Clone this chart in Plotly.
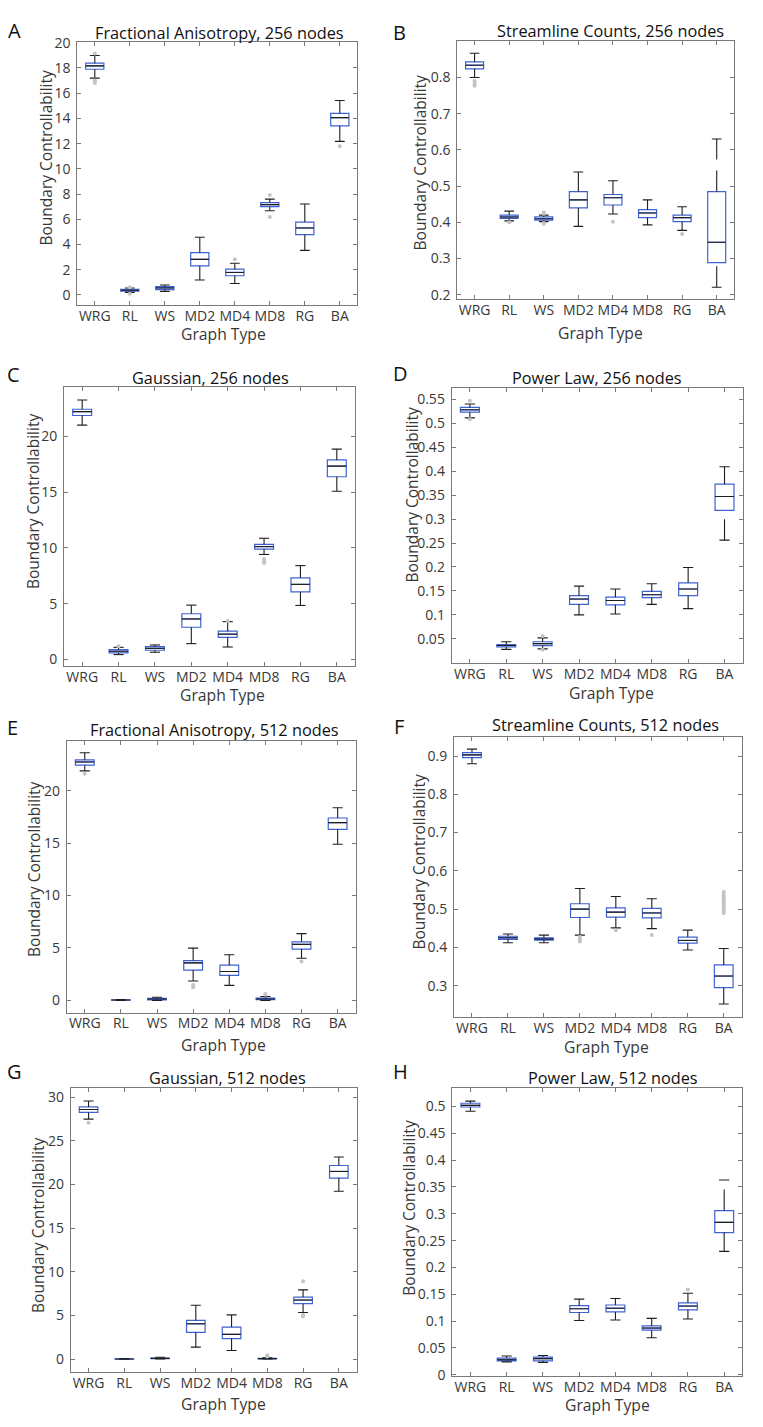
import plotly.graph_objects as go

# ---------------- data ----------------
categories = ["WRG", "RL", "WS", "MD2", "MD4", "MD8", "RG", "BA"]

# A: Fractional Anisotropy, 256 nodes
fa256_low = [17.2, 0.20, 0.28, 1.18, 0.91, 6.67, 3.53, 12.18]
fa256_q1 = [17.90, 0.30, 0.42, 2.30, 1.52, 7.00, 4.78, 13.41]
fa256_med = [18.17, 0.37, 0.55, 2.82, 1.78, 7.16, 5.31, 14.06]
fa256_q3 = [18.38, 0.45, 0.65, 3.35, 2.04, 7.32, 5.78, 14.40]
fa256_up = [18.99, 0.55, 0.78, 4.57, 2.51, 7.60, 7.21, 15.42]
fa256_out = [[19.15, 17.0, 16.9, 16.8], [0.1, 0.6], [], [], [2.82], [7.92, 6.17], [], [11.79]]

# B: Streamline Counts, 256 nodes
sc256_low = [0.800, 0.404, 0.402, 0.389, 0.423, 0.393, 0.378, 0.221]
sc256_q1 = [0.824, 0.411, 0.406, 0.440, 0.448, 0.413, 0.402, 0.289]
sc256_med = [0.834, 0.415, 0.410, 0.462, 0.468, 0.426, 0.413, 0.345]
sc256_q3 = [0.843, 0.420, 0.415, 0.485, 0.477, 0.435, 0.420, 0.485]
sc256_up = [0.867, 0.431, 0.420, 0.539, 0.515, 0.462, 0.443, 0.630]
sc256_out = [[0.790, 0.785, 0.780, 0.777], [0.400], [0.427, 0.424, 0.398, 0.396], [], [0.402], [], [0.368], []]

# C: Gaussian, 256 nodes
g256_low = [21.00, 0.44, 0.65, 1.42, 1.12, 9.41, 4.84, 15.07]
g256_q1 = [21.86, 0.59, 0.83, 2.89, 1.98, 9.88, 6.05, 16.37]
g256_med = [22.21, 0.74, 1.00, 3.63, 2.27, 10.12, 6.73, 17.32]
g256_q3 = [22.42, 0.88, 1.15, 4.10, 2.54, 10.32, 7.32, 17.88]
g256_up = [23.25, 1.09, 1.30, 4.87, 3.39, 10.86, 8.41, 18.85]
g256_out = [[], [1.18], [], [], [3.45], [9.0, 8.8, 8.64], [], []]

# D: Power Law, 256 nodes
pl256_low = [0.511, 0.028, 0.029, 0.100, 0.102, 0.122, 0.113, 0.256]
pl256_q1 = [0.523, 0.033, 0.036, 0.122, 0.121, 0.136, 0.140, 0.318]
pl256_med = [0.528, 0.036, 0.040, 0.133, 0.130, 0.142, 0.154, 0.347]
pl256_q3 = [0.533, 0.038, 0.044, 0.140, 0.137, 0.149, 0.167, 0.373]
pl256_up = [0.540, 0.044, 0.052, 0.160, 0.154, 0.165, 0.199, 0.409]
pl256_out = [[0.547, 0.508], [], [0.056, 0.027], [], [], [], [], []]

# E: Fractional Anisotropy, 512 nodes
fa512_low = [21.88, 0.00, 0.00, 1.85, 1.44, 0.00, 4.02, 14.88]
fa512_q1 = [22.42, 0.02, 0.06, 2.89, 2.39, 0.07, 4.90, 16.30]
fa512_med = [22.73, 0.04, 0.13, 3.58, 2.76, 0.14, 5.34, 16.95]
fa512_q3 = [22.92, 0.06, 0.20, 3.80, 3.36, 0.22, 5.59, 17.39]
fa512_up = [23.61, 0.09, 0.30, 4.99, 4.36, 0.38, 6.37, 18.37]
fa512_out = [[21.6], [], [], [1.48, 1.26], [], [0.55, 0.62], [3.7], []]

# F: Streamline Counts, 512 nodes
sc512_low = [0.880, 0.412, 0.412, 0.432, 0.451, 0.449, 0.393, 0.252]
sc512_q1 = [0.896, 0.421, 0.419, 0.478, 0.479, 0.477, 0.411, 0.295]
sc512_med = [0.903, 0.425, 0.422, 0.500, 0.492, 0.490, 0.418, 0.325]
sc512_q3 = [0.909, 0.429, 0.425, 0.514, 0.503, 0.502, 0.427, 0.354]
sc512_up = [0.918, 0.435, 0.432, 0.554, 0.533, 0.527, 0.445, 0.397]
sc512_out = [[], [], [], [0.427, 0.421, 0.415], [0.445], [0.432], [],
             [0.490, 0.495, 0.500, 0.505, 0.510, 0.515, 0.520, 0.525, 0.530, 0.535, 0.540, 0.545]]

# G: Gaussian, 512 nodes
g512_low = [27.50, 0.00, 0.00, 1.36, 0.98, 0.00, 5.33, 19.23]
g512_q1 = [28.26, 0.00, 0.04, 3.06, 2.34, 0.02, 6.35, 20.74]
g512_med = [28.60, 0.01, 0.08, 4.04, 2.83, 0.05, 6.76, 21.50]
g512_q3 = [28.90, 0.02, 0.12, 4.42, 3.66, 0.09, 7.10, 22.18]
g512_up = [29.58, 0.03, 0.20, 6.16, 5.06, 0.15, 7.93, 23.16]
g512_out = [[27.09], [], [], [], [], [0.30, 0.42], [8.92, 5.06, 4.87], []]

# H: Power Law, 512 nodes
pl512_low = [0.491, 0.024, 0.023, 0.101, 0.102, 0.069, 0.104, 0.230]
pl512_q1 = [0.499, 0.026, 0.026, 0.116, 0.117, 0.083, 0.121, 0.265]
pl512_med = [0.502, 0.028, 0.030, 0.123, 0.124, 0.087, 0.128, 0.284]
pl512_q3 = [0.506, 0.031, 0.033, 0.129, 0.130, 0.091, 0.134, 0.306]
pl512_up = [0.510, 0.035, 0.036, 0.141, 0.142, 0.105, 0.152, 0.363]
pl512_out = [[], [], [], [], [], [], [0.159], []]

# tick labels
ticks_fa256 = [0, 2, 4, 6, 8, 10, 12, 14, 16, 18, 20]
ticks_sc256 = [0.2, 0.3, 0.4, 0.5, 0.6, 0.7, 0.8]
ticks_g256 = [0, 5, 10, 15, 20]
ticks_pl256 = [0.05, 0.1, 0.15, 0.2, 0.25, 0.3, 0.35, 0.4, 0.45, 0.5, 0.55]
ticks_fa512 = [0, 5, 10, 15, 20]
ticks_sc512 = [0.3, 0.4, 0.5, 0.6, 0.7, 0.8, 0.9]
ticks_g512 = [0, 5, 10, 15, 20, 25, 30]
ticks_pl512 = [0, 0.05, 0.1, 0.15, 0.2, 0.25, 0.3, 0.35, 0.4, 0.45, 0.5]

titles = ["Fractional Anisotropy, 256 nodes", "Streamline Counts, 256 nodes",
          "Gaussian, 256 nodes", "Power Law, 256 nodes",
          "Fractional Anisotropy, 512 nodes", "Streamline Counts, 512 nodes",
          "Gaussian, 512 nodes", "Power Law, 512 nodes"]
letters = ["A", "B", "C", "D", "E", "F", "G", "H"]
x_title = "Graph Type"
y_title = "Boundary Controllability"

# ---------------- layout (pixels) ----------------
W, H = 763, 1427
FONT = "Open Sans"
BLUE = "#3f62cf"
DARK = "#1e1e1e"
GREY = "#7a7a7a"
TICKC = "#383838"
OUTC = "#c4c4c4"

panels = [
    dict(d=(fa256_low, fa256_q1, fa256_med, fa256_q3, fa256_up, fa256_out), ticks=ticks_fa256,
         yr=[-0.78, 20.07], frame=(77.3, 357.3, 33.3, 299.3),
         title=(220, 24), letter=(14, 21.7), xt=(223, 328.5), yt=(46.5, 150.8)),
    dict(d=(sc256_low, sc256_q1, sc256_med, sc256_q3, sc256_up, sc256_out), ticks=ticks_sc256,
         yr=[0.187, 0.901], frame=(457.3, 734, 32.3, 294),
         title=(610, 22.5), letter=(399, 24), xt=(600.8, 327.5), yt=(419.5, 155.8)),
    dict(d=(g256_low, g256_q1, g256_med, g256_q3, g256_up, g256_out), ticks=ticks_g256,
         yr=[-0.59, 24.4], frame=(64, 355, 382.7, 665),
         title=(210.3, 373.3), letter=(13.3, 370), xt=(222, 694), yt=(33.7, 498.3)),
    dict(d=(pl256_low, pl256_q1, pl256_med, pl256_q3, pl256_up, pl256_out), ticks=ticks_pl256,
         yr=[0.0, 0.574], frame=(451.7, 742.7, 383.3, 661.7),
         title=(596.7, 373.3), letter=(400.3, 369), xt=(611, 692), yt=(411.7, 491.7)),
    dict(d=(fa512_low, fa512_q1, fa512_med, fa512_q3, fa512_up, fa512_out), ticks=ticks_fa512,
         yr=[-1.16, 24.74], frame=(66.7, 355.7, 740.7, 1015.7),
         title=(214.3, 730), letter=(12.8, 727.5), xt=(223.3, 1048), yt=(33.3, 870)),
    dict(d=(sc512_low, sc512_q1, sc512_med, sc512_q3, sc512_up, sc512_out), ticks=ticks_sc512,
         yr=[0.2184, 0.95], frame=(454, 741.7, 736.7, 1020),
         title=(605, 725), letter=(398.7, 725.8), xt=(606.3, 1051), yt=(419.5, 863.3)),
    dict(d=(g512_low, g512_q1, g512_med, g512_q3, g512_up, g512_out), ticks=ticks_g512,
         yr=[-1.47, 31.1], frame=(70.7, 356.7, 1091.7, 1379.3),
         title=(227.5, 1081.7), letter=(14.2, 1075.5), xt=(223.3, 1412), yt=(37.8, 1230.8)),
    dict(d=(pl512_low, pl512_q1, pl512_med, pl512_q3, pl512_up, pl512_out), ticks=ticks_pl512,
         yr=[-0.002, 0.535], frame=(452.3, 742.3, 1091.7, 1383.3),
         title=(613.3, 1081.7), letter=(400.3, 1075.5), xt=(607.5, 1413), yt=(408.8, 1213.3)),
]

BOX_W = 0.52
CAP_W = 0.28
pos = list(range(len(categories)))

fig = go.Figure()
layout = dict(width=W, height=H, margin=dict(l=0, r=0, t=0, b=0),
              paper_bgcolor="white", plot_bgcolor="white", showlegend=False,
              boxmode="overlay", annotations=[])


def px(x):
    return x / W


def py(y):
    return 1 - y / H


for k, p in enumerate(panels):
    sfx = "" if k == 0 else str(k + 1)
    xa, ya = "x" + sfx, "y" + sfx
    low, q1, med, q3, up, out = p["d"]

    # blue boxes
    fig.add_trace(go.Box(x=pos, q1=q1, median=med, q3=q3, lowerfence=q1, upperfence=q3,
                         width=BOX_W, whiskerwidth=0, boxpoints=False,
                         line=dict(color=BLUE, width=1.2), fillcolor="rgba(255,255,255,0)",
                         xaxis=xa, yaxis=ya, hoverinfo="skip"))

    # whiskers: drawn from the lower value upward (dash starts at the lower end)
    wx, wy = [], []
    for i, (lo, a, b, hi) in enumerate(zip(low, q1, q3, up)):
        wx += [i, i, None, i, i, None]
        wy += [lo, a, None, b, hi, None]
    fig.add_trace(go.Scatter(x=wx, y=wy, mode="lines", xaxis=xa, yaxis=ya,
                             line=dict(color=DARK, width=1.1, dash="21px,11px"),
                             hoverinfo="skip", connectgaps=False))

    # caps
    cx, cy = [], []
    for i, (lo, hi) in enumerate(zip(low, up)):
        cx += [i - CAP_W / 2, i + CAP_W / 2, None, i - CAP_W / 2, i + CAP_W / 2, None]
        cy += [lo, lo, None, hi, hi, None]
    fig.add_trace(go.Scatter(x=cx, y=cy, mode="lines", xaxis=xa, yaxis=ya,
                             line=dict(color=DARK, width=1.1), hoverinfo="skip"))

    # medians
    mx, my = [], []
    for i, m in enumerate(med):
        mx += [i - BOX_W / 2, i + BOX_W / 2, None]
        my += [m, m, None]
    fig.add_trace(go.Scatter(x=mx, y=my, mode="lines", xaxis=xa, yaxis=ya,
                             line=dict(color=DARK, width=1.1), hoverinfo="skip"))

    # outliers
    ox, oy = [], []
    for i, vals in enumerate(out):
        for v in vals:
            ox.append(i)
            oy.append(v)
    fig.add_trace(go.Scatter(x=ox, y=oy, mode="markers", xaxis=xa, yaxis=ya,
                             marker=dict(color=OUTC, size=4, line=dict(width=0)),
                             hoverinfo="skip"))

    l, r, t, b = p["frame"]
    common = dict(ticks="inside", ticklen=4, tickwidth=1, tickcolor=GREY,
                  showline=True, linecolor=GREY, linewidth=1, mirror="ticks",
                  showgrid=False, zeroline=False,
                  tickfont=dict(family=FONT, size=14, color=TICKC))
    layout["xaxis" + sfx] = dict(domain=[px(l), px(r)], range=[-0.5, len(categories) - 0.5],
                                 tickvals=pos, ticktext=categories, anchor=ya,
                                 ticklabelstandoff=-2, **common)
    layout["yaxis" + sfx] = dict(domain=[py(b), py(t)], range=p["yr"],
                                 tickvals=p["ticks"], ticktext=[f"{v:g}" for v in p["ticks"]],
                                 anchor=xa, ticklabelstandoff=3, **common)

    tx, ty = p["title"]
    layout["annotations"].append(dict(text=titles[k], x=px(tx), y=py(ty), xref="paper", yref="paper",
                                      xanchor="center", yanchor="middle", showarrow=False,
                                      font=dict(family=FONT, size=16.3, color="#111111")))
    lx, ly = p["letter"]
    layout["annotations"].append(dict(text=letters[k], x=px(lx), y=py(ly), xref="paper", yref="paper",
                                      xanchor="center", yanchor="middle", showarrow=False,
                                      font=dict(family=FONT, size=20, color="#111111")))
    gx, gy = p["xt"]
    layout["annotations"].append(dict(text=x_title, x=px(gx), y=py(gy), xref="paper", yref="paper",
                                      xanchor="center", yanchor="middle", showarrow=False,
                                      font=dict(family=FONT, size=15.7, color=TICKC)))
    vx, vy = p["yt"]
    layout["annotations"].append(dict(text=y_title, x=px(vx), y=py(vy), xref="paper", yref="paper",
                                      xanchor="center", yanchor="middle", showarrow=False, textangle=-90,
                                      font=dict(family=FONT, size=15.5, color=TICKC)))

fig.update_layout(**layout)
fig.write_html("out.html")
